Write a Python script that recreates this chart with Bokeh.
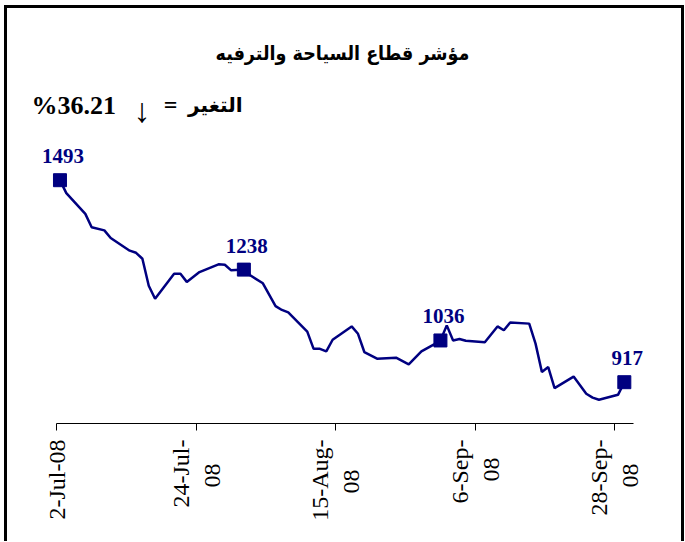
import math
import pandas as pd
from bokeh.plotting import figure
from bokeh.models import Range1d, FixedTicker, Label, ColumnDataSource
from bokeh.embed import file_html
from bokeh.resources import INLINE
from bokeh.core.properties import value

# ---- data ----
dates = ["2008-07-02", "2008-07-03", "2008-07-06", "2008-07-07", "2008-07-09",
         "2008-07-10", "2008-07-13", "2008-07-14", "2008-07-15", "2008-07-16",
         "2008-07-17", "2008-07-20", "2008-07-21", "2008-07-22", "2008-07-24",
         "2008-07-27", "2008-07-28", "2008-07-29", "2008-07-31", "2008-08-01",
         "2008-08-03", "2008-08-05", "2008-08-06", "2008-08-07", "2008-08-10",
         "2008-08-11", "2008-08-12", "2008-08-13", "2008-08-14", "2008-08-17",
         "2008-08-18", "2008-08-19", "2008-08-21", "2008-08-24", "2008-08-26",
         "2008-08-28", "2008-08-30", "2008-08-31", "2008-09-01", "2008-09-02",
         "2008-09-03", "2008-09-04", "2008-09-07", "2008-09-09", "2008-09-10",
         "2008-09-11", "2008-09-14", "2008-09-15", "2008-09-16", "2008-09-17",
         "2008-09-18", "2008-09-21", "2008-09-23", "2008-09-24", "2008-09-25",
         "2008-09-28", "2008-09-29"]
values = [1493, 1456, 1397, 1359, 1350,
          1328, 1292, 1286, 1269, 1192,
          1155, 1226, 1226, 1203, 1231,
          1253, 1252, 1236, 1238, 1222,
          1199, 1134, 1123, 1116, 1061,
          1012, 1012, 1005, 1038, 1076,
          1055, 1003, 984, 987, 968,
          1005, 1025, 1036, 1079, 1036,
          1040, 1035, 1031, 1076, 1065,
          1087, 1084, 1027, 946, 960,
          900, 933, 884, 873, 867,
          881, 917]

label_dates = ["2008-07-02", "2008-07-31", "2008-08-31", "2008-09-29"]
label_values = [1493, 1238, 1036, 917]

tick_dates = ["2008-07-02", "2008-07-24", "2008-08-15", "2008-09-06", "2008-09-28"]
tick_labels = ["2-Jul-08", "24-Jul-\n08", "15-Aug-\n08", "6-Sep-\n08", "28-Sep-\n08"]

axis_start = "2008-07-02"
axis_end = "2008-10-01"

title_text = "مؤشر قطاع السياحة والترفيه"
change_value = "%36.21"
change_arrow = "↓"
change_eq = "="
change_word = "التغير"

NAVY = "#000080"
SERIF = "Liberation Serif"
ARABIC = "DejaVu Sans"
ARABIC_TITLE = "DejaVu Sans Condensed, DejaVu Sans"

# ---- layout (pixels) ----
W, H = 674, 533
BORDER = 3
# the drawing canvas takes the size of the bordered box (left+right, top borders)
CANVAS_W, CANVAS_H = W + 2 * BORDER, H + BORDER
BOTTOM_PANEL = 121
AXIS_LEFT_PX = 49.3          # where the date axis starts inside the canvas
PX_PER_DAY = 6.341
Y_LOW, Y_HIGH = 799.2, 1982.6

# approximate Times advance widths (em) to centre the wrapped second line
_EM = {"-": 0.333, "J": 0.389, "S": 0.556, "A": 0.722, "e": 0.444, "p": 0.5,
       "u": 0.5, "l": 0.278, "g": 0.5}


def _w(s):
    return sum(_EM.get(c, 0.5) for c in s)


def centred(label):
    lines = label.split("\n")
    if len(lines) < 2:
        return label
    first, second = lines[0], lines[1]
    n = int(round((_w(first) - _w(second)) / 2 / 0.25))
    return first + "\n" + second + "\u00a0" * max(n, 0)


# points sit in the middle of their day (date axis, between tick marks)
half_day = pd.Timedelta(hours=12)
line_src = ColumnDataSource(dict(x=pd.to_datetime(dates) + half_day, y=values))
lab_src = ColumnDataSource(dict(x=pd.to_datetime(label_dates) + half_day,
                                y=label_values,
                                t=[str(v) for v in label_values]))

a0 = pd.Timestamp(axis_start)
x_start = a0 - pd.Timedelta(days=AXIS_LEFT_PX / PX_PER_DAY)
x_end = a0 + pd.Timedelta(days=(CANVAS_W - AXIS_LEFT_PX) / PX_PER_DAY)

p = figure(width=W, height=H, x_axis_type="datetime", y_axis_location=None,
           toolbar_location=None, output_backend="svg",
           min_border_left=0, min_border_right=0,
           min_border_top=0, min_border_bottom=BOTTOM_PANEL,
           x_range=Range1d(x_start, x_end),
           y_range=Range1d(Y_LOW, Y_HIGH))
p.styles = {"border-left": "3px solid black", "border-top": "3px solid black",
            "border-right": "3px solid black", "box-sizing": "content-box",
            "margin-left": "4px", "margin-top": "5px"}

p.outline_line_color = None
p.xgrid.visible = False
p.ygrid.visible = False
p.background_fill_color = "white"
p.border_fill_color = "white"

tick_ms = [pd.Timestamp(d).value / 1e6 for d in tick_dates]
p.xaxis.bounds = (pd.Timestamp(axis_start), pd.Timestamp(axis_end))
p.xaxis.ticker = FixedTicker(ticks=tick_ms)
p.xaxis.major_label_overrides = {t: centred(l) for t, l in zip(tick_ms, tick_labels)}
p.xaxis.major_label_orientation = math.pi / 2
p.xaxis.major_label_text_font = SERIF
p.xaxis.major_label_text_font_size = "24px"
p.xaxis.major_label_text_color = "black"
p.xaxis.major_label_standoff = 9
p.xaxis.axis_line_color = "black"
p.xaxis.axis_line_width = 1
p.xaxis.major_tick_line_color = "black"
p.xaxis.major_tick_out = 7
p.xaxis.major_tick_in = 0
p.xaxis.minor_tick_line_color = None

p.line("x", "y", source=line_src, line_color=NAVY, line_width=2.5)
p.scatter("x", "y", source=lab_src, marker="square", size=13,
          fill_color=NAVY, line_color=NAVY)
p.text("x", "y", text="t", source=lab_src, text_font=value(SERIF),
       text_font_style="bold", text_font_size="21px", text_color=NAVY,
       text_align="center", text_baseline="middle", x_offset=3, y_offset=-24)

p.add_layout(Label(x=335, y=370, x_units="screen", y_units="screen",
                   text=title_text, text_align="center", text_baseline="middle",
                   text_font=ARABIC_TITLE, text_font_size="19.5px",
                   text_font_style="bold", text_color="black"))
p.add_layout(Label(x=24, y=318, x_units="screen", y_units="screen",
                   text=change_value, text_align="left", text_baseline="alphabetic",
                   text_font=SERIF, text_font_size="26px",
                   text_font_style="bold", text_color="black"))
p.add_layout(Label(x=134.5, y=313.5, x_units="screen", y_units="screen",
                   text=change_arrow, text_align="center", text_baseline="middle",
                   text_font=SERIF, text_font_size="34px",
                   text_font_style="normal", text_color="black"))
p.add_layout(Label(x=163, y=319, x_units="screen", y_units="screen",
                   text=change_eq, text_align="center", text_baseline="middle",
                   text_font=SERIF, text_font_size="24px",
                   text_font_style="bold", text_color="black"))
p.add_layout(Label(x=235, y=319, x_units="screen", y_units="screen",
                   text=change_word, text_align="right", text_baseline="middle",
                   text_font=ARABIC, text_font_size="20px",
                   text_font_style="bold", text_color="black"))

open("out.html", "w").write(file_html(p, INLINE))
